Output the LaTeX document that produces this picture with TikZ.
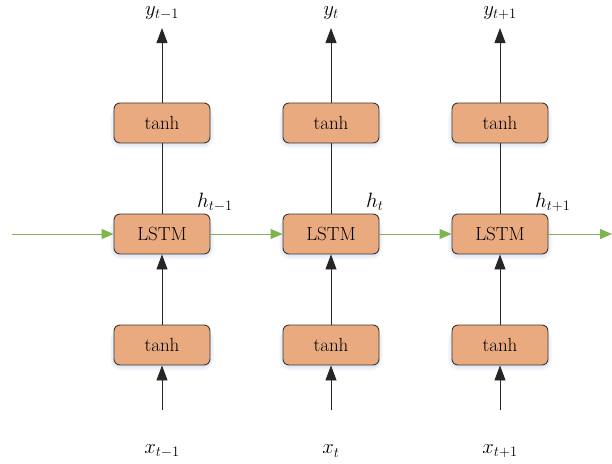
\documentclass[tikz,border=0pt]{standalone}
\usepackage{fontspec}
\usetikzlibrary{arrows.meta}
\definecolor{cellfill}{RGB}{233,170,128}
\definecolor{celledge}{RGB}{60,55,50}
\definecolor{flowgreen}{RGB}{128,180,78}
\definecolor{glow}{RGB}{130,160,210}
% soft bluish halo drawn under a cell centred at (#1,#2)
\newcommand{\cellhalo}[2]{%
  \foreach \g in {1,...,6}{%
    \fill[glow,opacity=0.045,rounded corners=6pt+\g pt]
      ({#1-48-\g*0.7},{#2-16}) rectangle ({#1+48+\g*0.7},{#2+21+\g*0.8});
  }}
\begin{document}
\begin{tikzpicture}[x=1pt,y=-1pt,
  cell/.style={draw=celledge,line width=0.9pt,fill=cellfill,rounded corners=6pt,
    minimum width=96pt,minimum height=40pt,inner sep=0pt,
    font=\fontsize{19}{22}\selectfont},
  lbl/.style={inner sep=0pt,font=\fontsize{22}{26}\selectfont},
  up/.style={draw=black!85,line width=0.9pt,-{Triangle[width=11pt,length=15pt]}},
  link/.style={draw=black!85,line width=0.9pt},
  rec/.style={draw=flowgreen,line width=1pt,-{Triangle[width=10pt,length=12pt]}}]
\useasboundingbox (0,0) rectangle (612,463);

\foreach \i/\cx/\s in {1/162/{t-1},2/331/{t},3/500/{t+1}}{
  \cellhalo{\cx}{123}
  \cellhalo{\cx}{234}
  \cellhalo{\cx}{345}
  \node[cell] (top\i) at (\cx,123) {tanh};
  \node[cell] (mid\i) at (\cx,234) {LSTM};
  \node[cell] (bot\i) at (\cx,345) {tanh};
  \node[lbl] (y\i) at (\cx,13) {$y_{\s}$};
  \node[lbl] (x\i) at (\cx,451) {$x_{\s}$};
  \coordinate (ytip\i) at (\cx,28);
  \coordinate (xfoot\i) at (\cx,410);
  \node[lbl,anchor=west] (h\i) at (\cx+35,202) {$h_{\s}$};
  \draw[up] (top\i.north) -- (ytip\i);
  \draw[link] (mid\i.north) -- (top\i.south);
  \draw[up] (bot\i.north) -- (mid\i.south);
  \draw[up] (xfoot\i) -- (bot\i.south);
}

\coordinate (inflow) at (12,234);
\coordinate (outflow) at (612,234);
\draw[rec] (inflow) -- (mid1.west);
\draw[rec] (mid1.east) -- (mid2.west);
\draw[rec] (mid2.east) -- (mid3.west);
\draw[rec] (mid3.east) -- (outflow);
\end{tikzpicture}
\end{document}
